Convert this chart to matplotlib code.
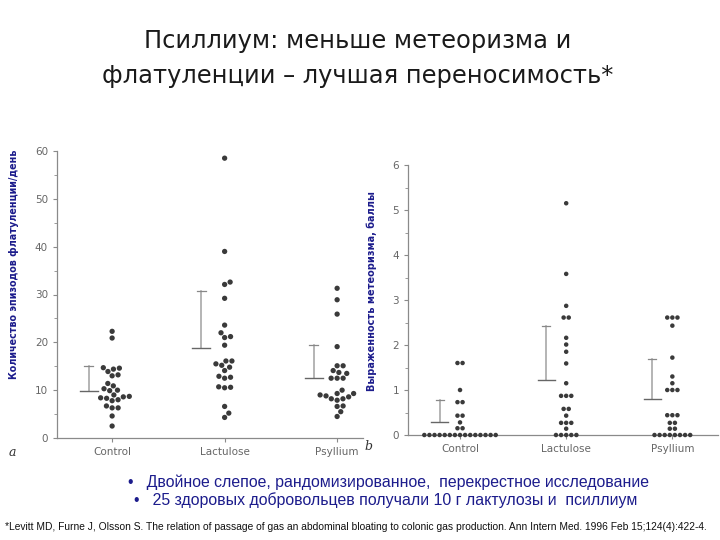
import numpy as np
import matplotlib
matplotlib.use("Agg")
import matplotlib.pyplot as plt
from matplotlib.ticker import MultipleLocator

# ---- data ----
groups = ["Control", "Lactulose", "Psyllium"]

# panel a: flatus episodes per day (one dot per volunteer)
flatus_control = [22.3, 20.9, 14.7, 14.6, 14.4, 13.9, 13.2, 13.0, 11.4, 10.9, 10.3, 10.0, 9.9,
                  9.0, 8.7, 8.6, 8.4, 8.3, 8.0, 7.8, 6.7, 6.3, 6.3, 4.6, 2.5]
flatus_lactulose = [58.5, 39.0, 32.6, 32.1, 29.2, 23.6, 22.0, 21.2, 21.0, 19.4, 16.1, 16.1, 15.5,
                    15.2, 14.8, 14.1, 12.9, 12.7, 12.5, 10.7, 10.6, 10.5, 6.6, 5.2, 4.3]
flatus_psyllium = [31.3, 28.9, 25.9, 19.1, 15.1, 15.1, 14.1, 13.7, 13.5, 12.5, 12.5, 12.5, 10.0,
                   9.3, 9.3, 9.0, 8.8, 8.6, 8.2, 8.2, 7.9, 6.7, 6.6, 5.5, 4.5]
flatus_mean = [9.8, 18.8, 12.5]
flatus_sd_top = [15.0, 30.8, 19.5]

# panel b: bloating score
bloat_control = [1.6, 1.6, 1.0, 0.73, 0.73, 0.43, 0.43, 0.28, 0.15, 0.15] + [0.0] * 15
bloat_lactulose = [5.15, 3.58, 2.87, 2.61, 2.61, 2.16, 2.01, 1.85, 1.59, 1.15, 0.87, 0.87, 0.87,
                   0.58, 0.58, 0.43, 0.27, 0.27, 0.27, 0.14] + [0.0] * 5
bloat_psyllium = [2.61, 2.61, 2.61, 2.43, 1.72, 1.3, 1.15, 1.0, 1.0, 1.0, 0.44, 0.44, 0.44,
                  0.27, 0.27, 0.14, 0.14] + [0.0] * 8
bloat_mean = [0.3, 1.22, 0.8]
bloat_sd_top = [0.77, 2.42, 1.7]

title_lines = ["Псиллиум: меньше метеоризма и", "флатуленции – лучшая переносимость*"]
ylabel_a = "Количество эпизодов флатуленции/день"
ylabel_b = "Выраженность метеоризма, баллы"
bullets = ["•   Двойное слепое, рандомизированное,  перекрестное исследование",
           "•   25 здоровых добровольцев получали 10 г лактулозы и  псиллиум"]
citation = ("*Levitt MD, Furne J, Olsson S. The relation of passage of gas an abdominal bloating "
            "to colonic gas production. Ann Intern Med. 1996 Feb 15;124(4):422-4.")

DOT = "#3a3a3a"
AXC = "#8a8a8a"
NAVY = "#1c1c8c"


def swarm(ax, xc, values, d, center_rows=False):
    # simple beeswarm in pixel space, returns x positions in data units
    pts = ax.transData.transform([(xc, v) for v in values])
    ppu = ax.transData.transform([(xc + 1, 0)])[0][0] - ax.transData.transform([(xc, 0)])[0][0]
    order = np.argsort(values)
    placed = []
    offs = np.zeros(len(values))
    for i in order:
        y = pts[i][1]
        cands = [0.0]
        for xo, yo in placed:
            dy = y - yo
            if abs(dy) < d:
                dx = np.sqrt(d * d - dy * dy)
                cands += [xo + dx, xo - dx]
        cands.sort(key=lambda c: (round(abs(c), 6), -c))
        for c in cands:
            if all((c - xo) ** 2 + (y - yo) ** 2 >= d * d - 1e-6 for xo, yo in placed):
                break
        placed.append((c, y))
        offs[i] = c
    if center_rows:
        vals = np.asarray(values)
        for v in np.unique(vals):
            m = vals == v
            offs[m] -= offs[m].mean()
    return xc + offs / ppu


def panel(ax, series, means, tops, ymax, major, minor, size, gap, err_dx, center_rows):
    for s in ["top", "right"]:
        ax.spines[s].set_visible(False)
    for s in ["left", "bottom"]:
        ax.spines[s].set_color(AXC)
        ax.spines[s].set_linewidth(0.9)
    ax.set_ylim(0, ymax)
    ax.yaxis.set_major_locator(MultipleLocator(major))
    ax.yaxis.set_minor_locator(MultipleLocator(minor))
    ax.set_xticks(range(len(groups)))
    ax.set_xticklabels(groups)
    ax.tick_params(colors=AXC, labelcolor="#666666", labelsize=7.5, length=3, width=0.8)
    ax.tick_params(axis="y", which="minor", length=2, colors=AXC)
    for i, vals in enumerate(series):
        xs = swarm(ax, i, vals, gap, center_rows)
        ax.scatter(xs, vals, s=size, color=DOT, edgecolors="none", clip_on=False, zorder=3)
        xe = i + err_dx
        ax.plot([xe, xe], [means[i], tops[i]], color="#a0a0a0", lw=1.1)
        ax.plot([xe - 0.04, xe + 0.04], [tops[i], tops[i]], color="#888888", lw=0.9)
        ax.plot([xe - 0.08, xe + 0.08], [means[i], means[i]], color="#666666", lw=1.0)


fig = plt.figure(figsize=(7.2, 5.4), dpi=100)
plt.rcParams["font.family"] = ["DejaVu Sans"]

axL = fig.add_axes([57 / 720, 102 / 540, 306 / 720, 287 / 540])
axL.set_xlim(-0.49, 2.23)
axR = fig.add_axes([408 / 720, 105 / 540, 310 / 720, 270 / 540])
axR.set_xlim(-0.49, 2.43)

panel(axL, [flatus_control, flatus_lactulose, flatus_psyllium], flatus_mean, flatus_sd_top,
      60, 10, 5, 14.5, 6.0, -0.21, False)
panel(axR, [bloat_control, bloat_lactulose, bloat_psyllium], bloat_mean, bloat_sd_top,
      6, 1, 0.5, 10.5, 5.1, -0.19, True)

fig.text(14 / 720, 1 - 264 / 540, ylabel_a, rotation=90, ha="center", va="center",
         fontsize=6.9, fontweight="bold", color=NAVY)
fig.text(372 / 720, 1 - 291 / 540, ylabel_b, rotation=90, ha="center", va="center",
         fontsize=7.0, fontweight="bold", color=NAVY)
fig.text(12 / 720, 1 - 452 / 540, "a", fontsize=9, style="italic", family="DejaVu Serif",
         ha="center", va="center", color="#333333")
fig.text(368 / 720, 1 - 446 / 540, "b", fontsize=9, style="italic", family="DejaVu Serif",
         ha="center", va="center", color="#333333")

fig.text(358 / 720, 1 - 41 / 540, title_lines[0], ha="center", va="center", fontsize=17.4, color="#1a1a1a")
fig.text(358 / 720, 1 - 76 / 540, title_lines[1], ha="center", va="center", fontsize=17.4, color="#1a1a1a")

fig.text(128 / 720, 1 - 482 / 540, bullets[0], ha="left", va="center", fontsize=11.45,
         family="Liberation Sans", color=NAVY)
fig.text(134 / 720, 1 - 500 / 540, bullets[1], ha="left", va="center", fontsize=11.45,
         family="Liberation Sans", color=NAVY)
fig.text(5 / 720, 1 - 527 / 540, citation, ha="left", va="center", fontsize=7.35,
         family="Liberation Sans", color="#111111")

fig.savefig("out.png", dpi=100)
